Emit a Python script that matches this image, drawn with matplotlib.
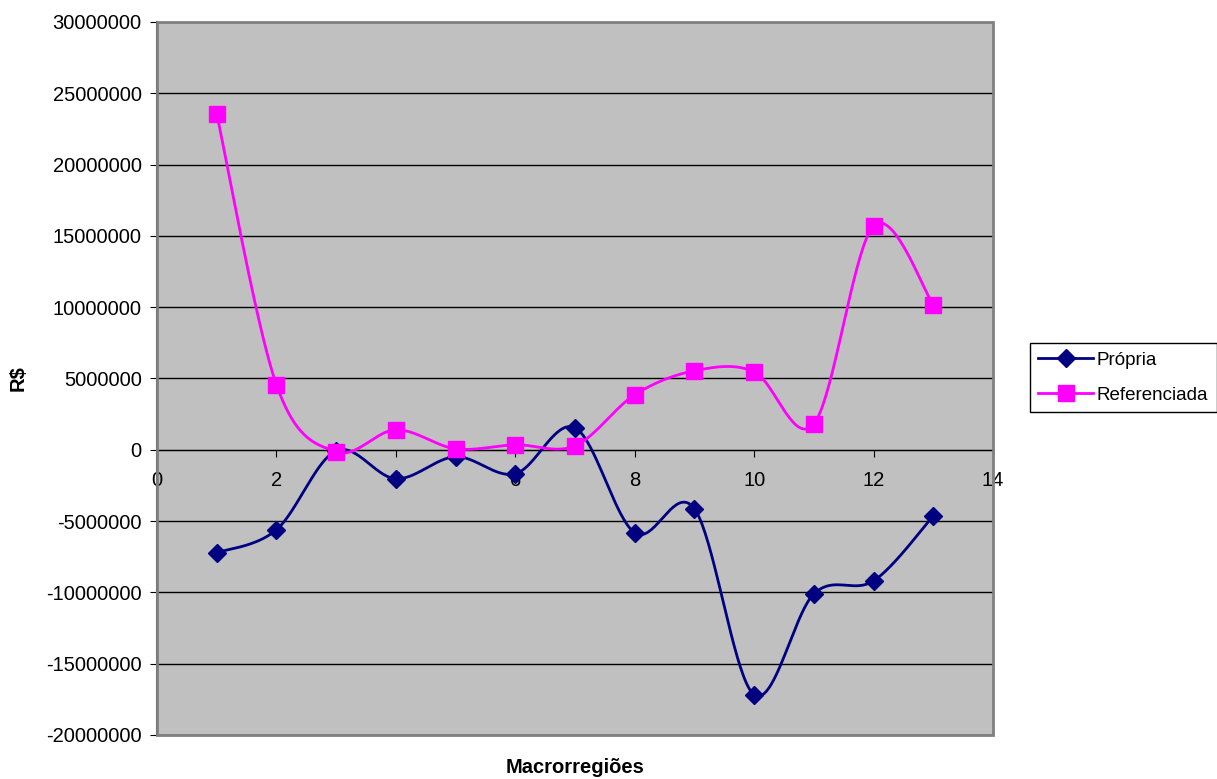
import numpy as np
import matplotlib.pyplot as plt
from matplotlib.patches import Rectangle
from matplotlib.lines import Line2D

plt.rcParams['font.family'] = ['Liberation Sans', 'DejaVu Sans']
plt.rcParams['font.size'] = 14.5

# macrorregioes e saldos (R$)
regioes = [1, 2, 3, 4, 5, 6, 7, 8, 9, 10, 11, 12, 13]
propria = [-7220000, -5610000, -70000, -2030000, -490000, -1680000, 1540000,
           -5820000, -4140000, -17180000, -10100000, -9190000, -4630000]
referenciada = [23560000, 4560000, -140000, 1400000, 70000, 350000, 280000,
                3860000, 5540000, 5470000, 1820000, 15700000, 10170000]


def suaviza(x, y, n=40):
    # curva de Catmull-Rom passando pelos pontos (linha suavizada)
    p = np.column_stack([x, y]).astype(float)
    p = np.vstack([p[0], p, p[-1]])
    out = []
    t = np.linspace(0, 1, n)[:, None]
    for i in range(1, len(p) - 2):
        p0, p1, p2, p3 = p[i - 1], p[i], p[i + 1], p[i + 2]
        c1 = p1 + (p2 - p0) / 6
        c2 = p2 - (p3 - p1) / 6
        seg = ((1 - t) ** 3) * p1 + 3 * ((1 - t) ** 2) * t * c1 \
            + 3 * (1 - t) * t ** 2 * c2 + t ** 3 * p2
        out.append(seg)
    out = np.vstack(out)
    return out[:, 0], out[:, 1]


fig = plt.figure(figsize=(12.17, 7.79), dpi=100)
ax = fig.add_axes([0.129, 0.0565, 0.687, 0.9153])
ax.set_facecolor('#C0C0C0')

ax.set_xlim(0, 14)
ax.set_ylim(-20000000, 30000000)
ax.set_xticks(range(0, 15, 2))
ax.set_yticks(range(-20000000, 30000001, 5000000))
ax.yaxis.set_major_formatter(plt.FuncFormatter(lambda v, p: '%d' % v))

ax.grid(axis='y', color='black', lw=1)
ax.set_axisbelow(True)

for s in ['top', 'right']:
    ax.spines[s].set_visible(False)
ax.spines['bottom'].set_position(('data', 0))
ax.spines['bottom'].set_color('black')
ax.spines['left'].set_color('#404040')
ax.spines['left'].set_linewidth(1.5)
ax.add_patch(Rectangle((0, 0), 1, 1, transform=ax.transAxes, fill=False,
                       edgecolor='#808080', lw=2, zorder=5, clip_on=False))

ax.tick_params(axis='x', direction='out', length=5, color='black', pad=10)
ax.tick_params(axis='y', direction='out', length=5, color='black', pad=6)

xs, ys = suaviza(regioes, propria)
ax.plot(xs, ys, color='#000080', lw=2, zorder=3)
ax.plot(regioes, propria, ls='none', marker='D', ms=9, color='#000080', zorder=4)

xs, ys = suaviza(regioes, referenciada)
ax.plot(xs, ys, color='#FF00FF', lw=2, zorder=3)
ax.plot(regioes, referenciada, ls='none', marker='s', ms=11, color='#FF00FF', zorder=4)

ax.set_ylabel('R$', fontweight='bold')
ax.yaxis.set_label_coords(-0.155, 0.5)
fig.text(0.4725, 0.003, 'Macrorregiões', fontweight='bold', ha='center',
         va='bottom')

handles = [Line2D([], [], color='#000080', lw=2, marker='D', ms=9),
           Line2D([], [], color='#FF00FF', lw=2, marker='s', ms=11)]
leg = fig.legend(handles, ['Própria', 'Referenciada'], loc='upper left',
                 bbox_to_anchor=(1030 / 1217, 1 - 343 / 779), frameon=True,
                 fancybox=False, edgecolor='black', framealpha=1,
                 fontsize=13.5, handlelength=2.9, borderpad=0.45,
                 labelspacing=0.95, handletextpad=0.2, borderaxespad=0)
leg.get_frame().set_linewidth(1)

fig.savefig('out.png', dpi=100)
